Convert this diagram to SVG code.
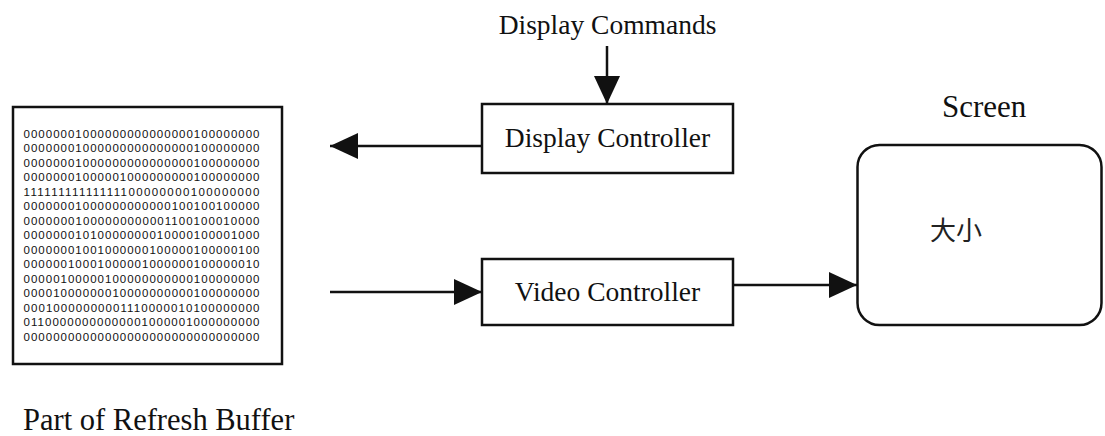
<svg xmlns="http://www.w3.org/2000/svg" width="1105" height="436" viewBox="0 0 1105 436">
  <style>
    .lbl { font-family: "Liberation Serif", "Times New Roman", serif; fill: #111; }
    .box { fill: #fff; stroke: #111; stroke-width: 2.5; }
    .wire { fill: none; stroke: #111; stroke-width: 2.5; }
    .bits { font-family: "Liberation Sans", Arial, sans-serif; font-size: 11.5px; fill: #111; }
    .cjk { font-family: "Liberation Sans", "Noto Sans CJK SC", sans-serif; font-size: 26px; fill: #222; }
  </style>
  <defs>
    <marker id="head" markerUnits="userSpaceOnUse" markerWidth="28" markerHeight="26" refX="28" refY="13" orient="auto">
      <path d="M0,0 L28,13 L0,26 Z" fill="#111"/>
    </marker>
  </defs>

  <rect width="1105" height="436" fill="#fff"/>

  <!-- refresh buffer: bitmap of the characters shown on the screen -->
  <g id="refresh-buffer">
    <rect class="box" x="13" y="107" width="269" height="257" stroke-width="3"/>
    <g class="bits">
      <text x="23.5" y="137.7" textLength="236" lengthAdjust="spacing">00000001000000000000000100000000</text>
      <text x="23.5" y="152.2" textLength="236" lengthAdjust="spacing">00000001000000000000000100000000</text>
      <text x="23.5" y="166.7" textLength="236" lengthAdjust="spacing">00000001000000000000000100000000</text>
      <text x="23.5" y="181.2" textLength="236" lengthAdjust="spacing">00000001000001000000000100000000</text>
      <text x="23.5" y="195.7" textLength="236" lengthAdjust="spacing">11111111111111100000000100000000</text>
      <text x="23.5" y="210.2" textLength="236" lengthAdjust="spacing">00000001000000000000100100100000</text>
      <text x="23.5" y="224.7" textLength="236" lengthAdjust="spacing">00000001000000000001100100010000</text>
      <text x="23.5" y="239.2" textLength="236" lengthAdjust="spacing">00000001010000000010000100001000</text>
      <text x="23.5" y="253.7" textLength="236" lengthAdjust="spacing">00000001001000000100000100000100</text>
      <text x="23.5" y="268.2" textLength="236" lengthAdjust="spacing">00000010001000001000000100000010</text>
      <text x="23.5" y="282.7" textLength="236" lengthAdjust="spacing">00000100000100000000000100000000</text>
      <text x="23.5" y="297.2" textLength="236" lengthAdjust="spacing">00001000000010000000000100000000</text>
      <text x="23.5" y="311.7" textLength="236" lengthAdjust="spacing">00010000000001110000010100000000</text>
      <text x="23.5" y="326.2" textLength="236" lengthAdjust="spacing">01100000000000001000001000000000</text>
      <text x="23.5" y="340.7" textLength="236" lengthAdjust="spacing">00000000000000000000000000000000</text>
    </g>
    <text class="lbl" x="23" y="430" font-size="30.5">Part of Refresh Buffer</text>
  </g>

  <g id="display-commands">
    <text class="lbl" x="607.5" y="34" font-size="27.5" text-anchor="middle">Display Commands</text>
  </g>

  <g id="display-controller">
    <rect class="box" x="482" y="104" width="251" height="69"/>
    <text class="lbl" x="607.5" y="147" font-size="27.5" text-anchor="middle">Display Controller</text>
  </g>

  <g id="video-controller">
    <rect class="box" x="482" y="259" width="251" height="66"/>
    <text class="lbl" x="607.5" y="301" font-size="27.5" text-anchor="middle">Video Controller</text>
  </g>

  <g id="screen">
    <text class="lbl" x="942" y="117" font-size="31">Screen</text>
    <rect class="box" x="857.5" y="145" width="244" height="180" rx="22" ry="22"/>
    <text class="cjk" x="930" y="240">大小</text>
  </g>

  <g id="connectors">
    <line class="wire" x1="607" y1="46" x2="607" y2="104" marker-end="url(#head)"/>
    <line class="wire" x1="482" y1="146" x2="330" y2="146" marker-end="url(#head)"/>
    <line class="wire" x1="330" y1="292" x2="482" y2="292" marker-end="url(#head)"/>
    <line class="wire" x1="733" y1="285" x2="857" y2="285" marker-end="url(#head)"/>
  </g>
</svg>
